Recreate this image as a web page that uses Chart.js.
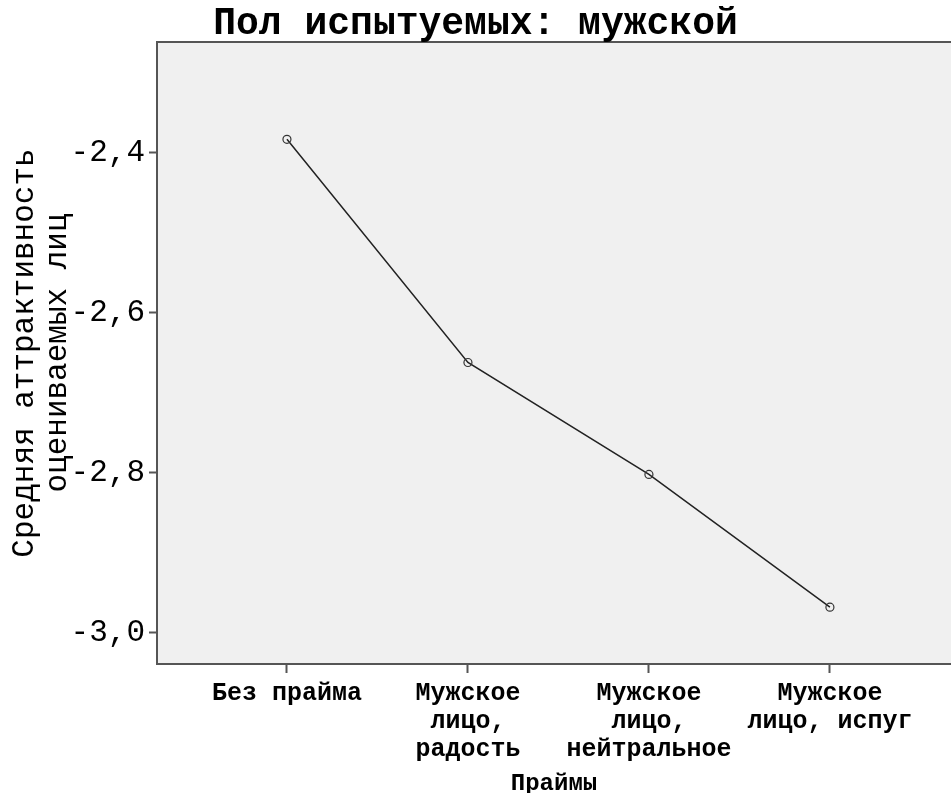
<!DOCTYPE html>
<html>
<head>
<meta charset="utf-8">
<script src="https://cdn.jsdelivr.net/npm/chart.js@4/dist/chart.umd.min.js"></script>
<style>
  body { margin: 0; background: #fff; }
</style>
</head>
<body>
<canvas id="chart" width="951" height="793"></canvas>
<script>
const categories = [
  "Без прайма",
  ["Мужское", "лицо,", "радость"],
  ["Мужское", "лицо,", "нейтральное"],
  ["Мужское", "лицо, испуг"],
];
const meanValues = [-2.383, -2.662, -2.802, -2.968];
const yTicks = [-2.4, -2.6, -2.8, -3.0];

const mono = "'Liberation Mono', 'Courier New', monospace";

// grey plot background + top frame line
const plotBg = {
  id: "plotBg",
  beforeDraw(chart) {
    const { ctx, chartArea: a } = chart;
    ctx.save();
    ctx.fillStyle = "#f0f0f0";
    ctx.fillRect(a.left, a.top, a.right - a.left, a.bottom - a.top);
    ctx.strokeStyle = "#555";
    ctx.lineWidth = 2;
    ctx.beginPath();
    ctx.moveTo(a.left, a.top);
    ctx.lineTo(a.right, a.top);
    ctx.stroke();
    ctx.restore();
  },
};

const ctx = document.getElementById("chart").getContext("2d");
const chart = new Chart(ctx, {
  type: "line",
  data: {
    datasets: [{
      data: meanValues.map((v, i) => ({ x: i, y: v })),
      borderColor: "#222",
      borderWidth: 1.5,
      pointRadius: 4,
      pointBorderWidth: 1.2,
      pointBorderColor: "#333",
      pointBackgroundColor: "rgba(0,0,0,0)",
      tension: 0,
    }],
  },
  options: {
    responsive: false,
    animation: false,
    layout: { autoPadding: false, padding: 0 },
    plugins: {
      legend: { display: false },
      tooltip: { enabled: false },
      title: {
        display: true,
        text: "Пол испытуемых: мужской",
        color: "#000",
        font: { family: mono, size: 38, weight: "bold", lineHeight: 1 },
        padding: { top: 5, bottom: -1 },
      },
    },
    scales: {
      x: {
        type: "linear",
        min: -0.718,
        max: 3.669,
        afterBuildTicks(scale) {
          scale.ticks = categories.map((c, i) => ({ value: i }));
        },
        afterFit(scale) { scale.height = 129; },
        ticks: {
          color: "#000",
          font: { family: mono, size: 25, weight: "bold", lineHeight: 28 / 25 },
          padding: 7,
          maxRotation: 0,
          autoSkip: false,
          callback: (v) => categories[v],
        },
        grid: { drawOnChartArea: false, tickLength: 9, color: "#555", tickWidth: 2 },
        border: { color: "#555", width: 2 },
        title: {
          display: true,
          text: "Праймы",
          color: "#000",
          font: { family: mono, size: 24, weight: "bold", lineHeight: 1 },
          padding: { top: 0, bottom: -3 },
        },
      },
      y: {
        min: -3.039,
        max: -2.2613,
        afterBuildTicks(scale) {
          scale.ticks = yTicks.map((v) => ({ value: v }));
        },
        afterFit(scale) { scale.width = 157; },
        ticks: {
          color: "#000",
          font: { family: mono, size: 31 },
          padding: 4,
          callback: (v) => v.toFixed(1).replace(".", ","),
        },
        grid: { drawOnChartArea: false, tickLength: 8, color: "#555", tickWidth: 2 },
        border: { color: "#555", width: 2 },
        title: {
          display: true,
          text: ["Средняя аттрактивность", "оцениваемых лиц"],
          color: "#000",
          font: { family: mono, size: 31, lineHeight: 33 / 31 },
          padding: { top: 8, bottom: 0 },
        },
      },
    },
  },
  plugins: [plotBg],
});
</script>
</body>
</html>
